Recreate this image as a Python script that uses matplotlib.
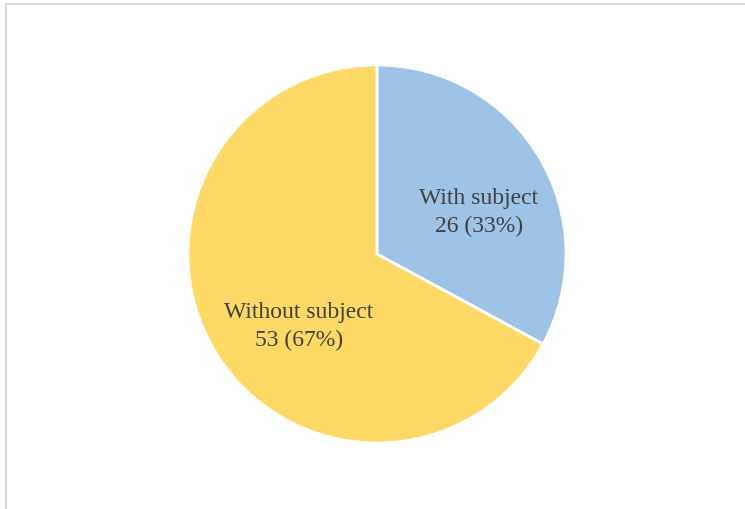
import matplotlib.pyplot as plt
from matplotlib.patches import Rectangle

labels = ['With subject', 'Without subject']
counts = [26, 53]
colors = ['#9DC3E6', '#FFD966']

total = sum(counts)
texts = [f'{lab}\n{n} ({n / total:.0%})' for lab, n in zip(labels, counts)]

fig = plt.figure(figsize=(7.45, 5.1), dpi=100)
ax = fig.add_axes([0.2523, 0.1294, 0.5074, 0.7412])

wedges, lbls = ax.pie(counts, labels=texts, colors=colors, startangle=90,
                      counterclock=False, labeldistance=0.57, radius=1,
                      wedgeprops=dict(edgecolor='white', linewidth=2),
                      textprops=dict(family='Liberation Serif', fontsize=17,
                                     color='#404040', ha='center', va='center',
                                     linespacing=1.42))
# nudge labels a bit right and down, like the spreadsheet layout
for t, (dx, dy) in zip(lbls, [(0.05, -0.065), (0.075, -0.085)]):
    x, y = t.get_position()
    t.set_position((x + dx, y + dy))

ax.set_xlim(-1, 1)
ax.set_ylim(-1, 1)
ax.set_aspect('equal')

# light grey chart frame
fig.patches.append(Rectangle((6.5 / 745, -0.1), 1.2, 1 - 4.5 / 510 + 0.1,
                             transform=fig.transFigure, fill=False,
                             edgecolor='#D9D9D9', linewidth=1.5))

fig.savefig('out.png', dpi=100)
